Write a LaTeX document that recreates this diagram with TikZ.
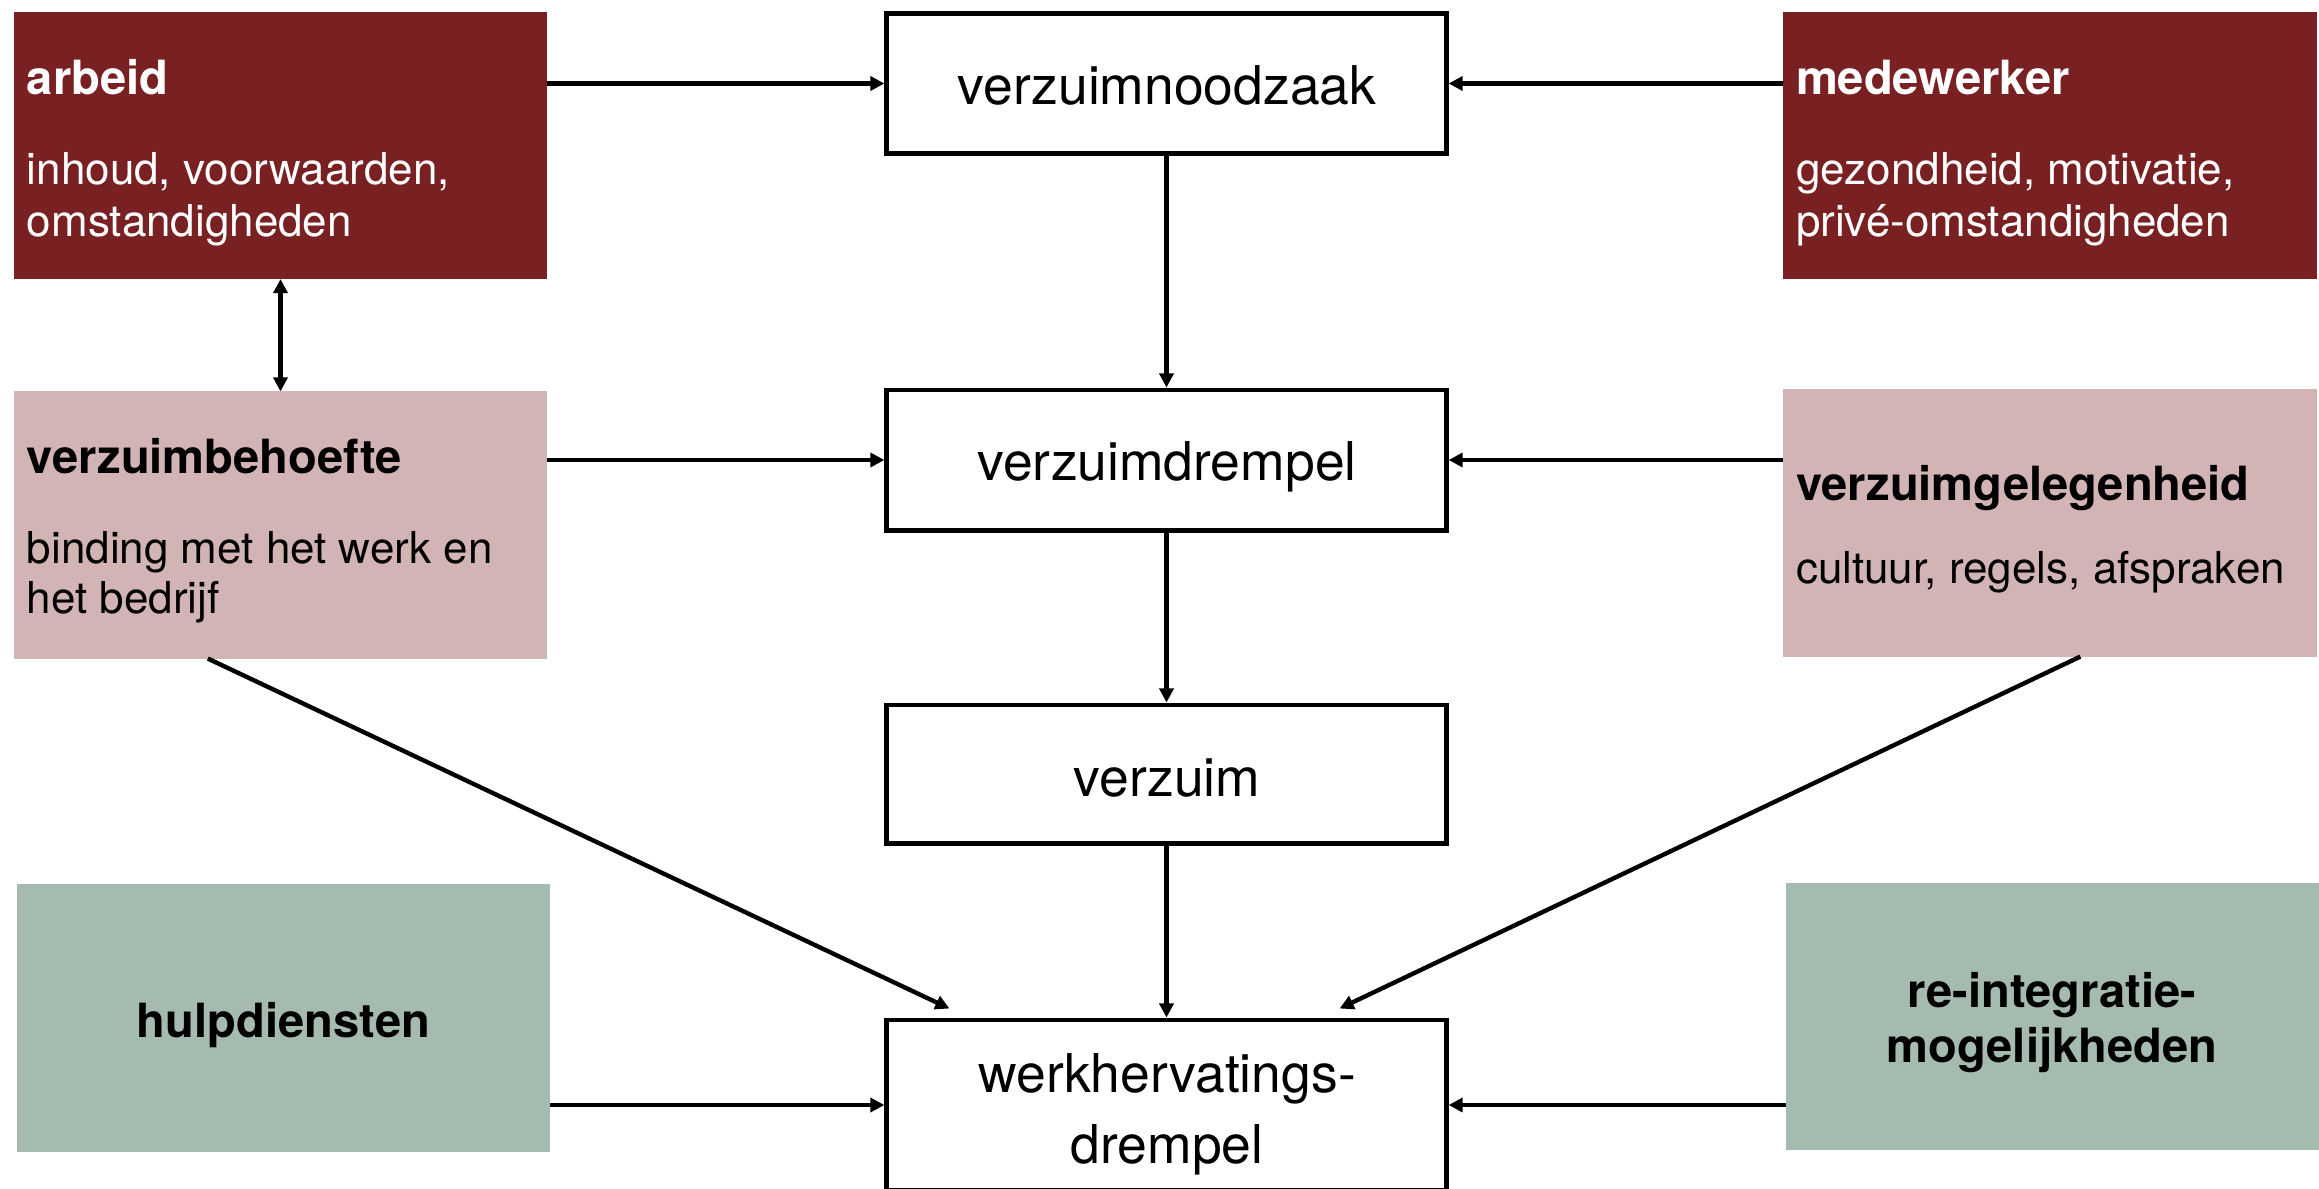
\documentclass[tikz,border=0pt]{standalone}
\usepackage{fontspec}
\setmainfont{TeX Gyre Heros}
\usetikzlibrary{arrows.meta,calc}
\definecolor{darkred}{RGB}{121,33,34}
\definecolor{rosebox}{RGB}{210,180,180}
\definecolor{greenbox}{RGB}{166,187,175}
\tikzset{
  midbox/.style={draw=black, line width=1.4pt, fill=white, inner sep=0pt, minimum width=5.59cm},
  colbox/.style={inner sep=0pt, outer sep=0pt, minimum width=5.33cm, minimum height=2.67cm},
  lbl/.style={inner sep=0pt, outer sep=0pt, anchor=base west},
  clbl/.style={inner sep=0pt, outer sep=0pt, anchor=base},
  midtxt/.style={font=\fontsize{15.2}{18}\selectfont},
  ttl/.style={font=\fontsize{13.4}{16}\selectfont\bfseries},
  sub/.style={font=\fontsize{12.5}{15}\selectfont},
  conn/.style={line width=1.25pt, -{Triangle[length=0.14cm,width=0.14cm]}},
  conn2/.style={line width=1.25pt, {Triangle[length=0.14cm,width=0.14cm]}-{Triangle[length=0.14cm,width=0.14cm]}}
}
\begin{document}
\begin{tikzpicture}[x=0.01cm,y=-0.01cm]
\useasboundingbox (0,0) rectangle (2319,1188);

% coloured boxes
\node[colbox, fill=darkred] (ar) at (280.5,145.5) {};
\node[colbox, fill=darkred] (me) at (2050,145.5) {};
\node[colbox, fill=rosebox] (vb) at (280.5,525) {};
\node[colbox, fill=rosebox] (vg) at (2050,523) {};
\node[colbox, fill=greenbox] (hu) at (283.5,1018) {};
\node[colbox, fill=greenbox] (ri) at (2052.5,1016.5) {};

% middle boxes
\node[midbox, minimum height=1.39cm] (vn) at (1166.5,83.5) {};
\node[midbox, minimum height=1.40cm] (vd) at (1166.5,460) {};
\node[midbox, minimum height=1.38cm] (vz) at (1166.5,774) {};
\node[midbox, minimum height=1.70cm] (wk) at (1166.5,1105) {};

% texts
\node[lbl, ttl, text=white] (t1) at (27,95) {arbeid};
\node[lbl, sub, text=white] (t2) at (27,185) {inhoud, voorwaarden,};
\node[lbl, sub, text=white] (t3) at (27,236) {omstandigheden};

\node[lbl, ttl, text=white] (t4) at (1796,95) {medewerker};
\node[lbl, sub, text=white] (t5) at (1796,185) {gezondheid, motivatie,};
\node[lbl, sub, text=white] (t6) at (1796,236) {privé-omstandigheden};

\node[lbl, ttl] (t7) at (27,473) {verzuimbehoefte};
\node[lbl, sub] (t8) at (27,563) {binding met het werk en};
\node[lbl, sub] (t9) at (27,613) {het bedrijf};

\node[lbl, ttl] (t10) at (1796,500) {verzuimgelegenheid};
\node[lbl, sub] (t11) at (1796,583) {cultuur, regels, afspraken};

\node[clbl, ttl] (t12) at (283.5,1037) {hulpdiensten};
\node[clbl, ttl] (t13) at (2052,1007) {re-integratie-};
\node[clbl, ttl] (t14) at (2052,1062) {mogelijkheden};

\node[clbl, midtxt] (t15) at (1167,105) {verzuimnoodzaak};
\node[clbl, midtxt] (t16) at (1167,480) {verzuimdrempel};
\node[clbl, midtxt] (t17) at (1167,796) {verzuim};
\node[clbl, midtxt] (t18) at (1167,1092) {werkhervatings-};
\node[clbl, midtxt] (t19) at (1167,1163) {drempel};

% connectors
\draw[conn] (vn.west -| ar.east) -- (vn.west);
\draw[conn] (vn.east -| me.west) -- (vn.east);
\draw[conn] (vn.south) -- (vd.north);
\draw[conn] (vd.west -| vb.east) -- (vd.west);
\draw[conn] (vd.east -| vg.west) -- (vd.east);
\draw[conn] (vd.south) -- (vz.north);
\draw[conn] (vz.south) -- (wk.north);
\draw[conn2] (ar.south) -- (vb.north);
\draw[conn] (wk.west -| hu.east) -- (wk.west);
\draw[conn] (wk.east -| ri.west) -- (wk.east);

\coordinate (vbout) at ($(vb.south west)+(194,0)$);
\coordinate (wkinl) at ($(wk.north west)+(65,-9)$);
\coordinate (vgout) at ($(vg.south west)+(297,0)$);
\coordinate (wkinr) at ($(wk.north east)+(-109,-9)$);
\draw[conn] (vbout) -- (wkinl);
\draw[conn] (vgout) -- (wkinr);
\end{tikzpicture}
\end{document}
